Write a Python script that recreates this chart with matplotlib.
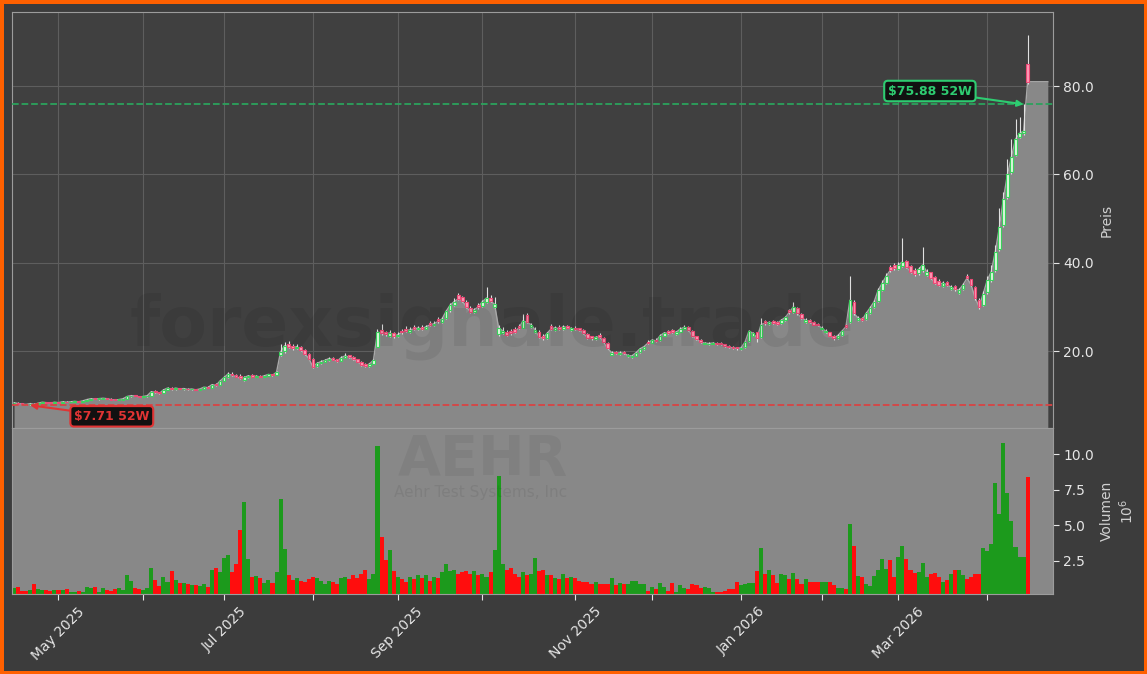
import numpy as np
import pandas as pd
import matplotlib
matplotlib.use('Agg')
import matplotlib.pyplot as plt
from matplotlib.ticker import MultipleLocator, FormatStrFormatter

# AEHR daily candles, trading days starting 2025-04-15
opens = [8.15, 8.3, 8.15, 8.05, 7.9, 8.1, 7.95, 8.2, 8.45, 8.35,
         8.2, 8.45, 8.3, 8.55, 8.4, 8.5, 8.65, 8.5, 8.7, 9.0,
         9.3, 9.1, 9.15, 9.35, 9.2, 9.05, 8.9, 9.0, 9.2, 9.7,
         10.0, 9.8, 9.6, 9.7, 9.9, 10.9, 10.6, 10.5, 11.2, 11.7,
         11.3, 11.6, 11.3, 11.5, 11.3, 11.4, 11.2, 11.4, 11.9, 11.7,
         12.5, 12.3, 13.2, 14.0, 14.9, 14.6, 14.4, 13.4, 14.0, 14.5,
         14.1, 14.4, 14.1, 14.4, 14.8, 14.6, 19.0, 19.9, 21.5, 21.2,
         20.6, 21.0, 20.2, 19.4, 18.2, 16.5, 17.2, 17.6, 17.9, 18.4,
         18.1, 17.8, 18.5, 19.0, 18.7, 18.1, 17.6, 17.0, 16.5, 17.1,
         21.0, 24.8, 24.2, 23.5, 24.0, 23.3, 24.6, 25.0, 24.3, 25.4,
         24.9, 25.4, 25.0, 26.3, 25.8, 27.2, 26.6, 27.5, 29.2, 30.5,
         32.6, 32.2, 31.2, 29.8, 28.9, 30.4, 30.2, 31.0, 32.0, 30.0,
         23.8, 24.0, 24.4, 24.5, 24.9, 25.6, 25.3, 28.2, 25.4, 24.2,
         24.4, 23.5, 23.0, 25.6, 24.8, 25.4, 25.0, 25.7, 24.8, 25.3,
         25.1, 24.7, 23.8, 23.3, 22.8, 23.6, 23.0, 21.8, 19.2, 19.8,
         19.3, 19.8, 18.8, 18.6, 18.9, 19.7, 20.5, 22.1, 21.9, 22.6,
         22.5, 23.5, 24.5, 24.7, 23.9, 24.3, 25.0, 25.5, 24.6, 23.3,
         22.6, 21.6, 21.5, 21.6, 21.8, 21.8, 21.5, 21.2, 20.9, 20.9,
         20.4, 20.8, 22.3, 23.5, 24.2, 23.2, 26.8, 26.1, 26.7, 26.5,
         26.3, 27.0, 29.2, 28.9, 29.8, 28.4, 26.6, 27.0, 26.5, 26.2,
         24.9, 24.2, 24.2, 23.3, 23.0, 23.6, 25.9, 26.5, 31.0, 27.0,
         27.5, 27.3, 28.6, 30.0, 31.4, 33.8, 35.5, 39.0, 39.5, 38.6,
         39.3, 40.3, 39.2, 38.3, 37.6, 38.3, 37.2, 37.8, 36.7, 35.8,
         34.8, 35.6, 34.0, 34.8, 33.2, 34.0, 37.0, 36.2, 34.5, 31.6,
         30.4, 33.3, 36.0, 38.3, 43.0, 48.5, 54.8, 60.5, 64.5, 68.5,
         69.3, 85.0]
highs = [8.4, 8.35, 8.2, 8.1, 8.2, 8.15, 8.3, 8.5, 8.5, 8.4,
         8.5, 8.55, 8.6, 8.6, 8.6, 8.7, 8.7, 8.8, 9.1, 9.3,
         9.4, 9.3, 9.4, 9.4, 9.25, 9.1, 9.1, 9.3, 9.8, 10.1,
         10.1, 9.9, 9.8, 10.0, 11.0, 11.1, 10.7, 11.4, 11.8, 11.8,
         11.7, 11.7, 11.6, 11.6, 11.5, 11.5, 11.5, 11.9, 12.0, 12.6,
         12.7, 13.4, 14.3, 15.2, 15.3, 14.8, 14.7, 14.4, 14.6, 14.7,
         14.5, 14.5, 14.6, 14.9, 14.9, 15.4, 21.5, 22.0, 22.2, 21.5,
         21.6, 21.2, 20.4, 19.5, 18.4, 17.5, 17.9, 18.2, 18.6, 18.6,
         18.3, 18.8, 19.5, 19.2, 18.8, 18.2, 17.7, 17.2, 17.3, 18.1,
         25.0, 26.2, 24.6, 24.8, 24.3, 24.2, 25.0, 25.6, 25.4, 25.8,
         25.7, 25.8, 26.0, 26.8, 26.7, 27.6, 27.8, 29.4, 30.8, 32.0,
         33.2, 32.5, 31.5, 30.2, 29.8, 30.8, 31.6, 34.5, 32.6, 32.3,
         26.0, 25.4, 24.8, 24.9, 25.4, 26.1, 28.4, 28.5, 26.4, 25.4,
         24.7, 23.8, 24.4, 26.2, 25.7, 25.8, 25.9, 26.0, 25.5, 25.6,
         25.3, 24.9, 24.0, 23.5, 23.4, 24.0, 23.2, 22.0, 20.0, 20.0,
         19.9, 20.0, 19.3, 19.1, 19.8, 20.7, 21.2, 22.4, 22.8, 22.9,
         23.8, 24.4, 24.7, 25.0, 24.6, 25.4, 25.9, 25.7, 24.8, 23.5,
         22.8, 22.1, 22.0, 22.0, 22.0, 22.0, 21.7, 21.3, 21.1, 21.0,
         21.0, 22.3, 24.8, 24.4, 24.4, 27.5, 27.0, 26.9, 27.0, 26.8,
         27.3, 28.0, 29.6, 31.0, 30.0, 28.6, 27.4, 27.2, 26.7, 26.4,
         25.6, 24.9, 24.4, 23.6, 23.8, 24.8, 26.2, 37.0, 31.5, 28.0,
         27.8, 28.8, 30.2, 31.6, 34.3, 36.0, 37.6, 39.5, 40.0, 40.2,
         45.5, 40.6, 39.5, 38.8, 39.0, 43.5, 38.6, 38.0, 37.0, 36.2,
         35.8, 35.9, 34.9, 35.0, 34.2, 35.4, 37.4, 36.4, 34.8, 31.9,
         33.5, 37.0, 39.5, 44.0, 52.5, 56.0, 63.5, 68.0, 72.5, 73.0,
         75.88, 91.5]
lows = [8.1, 8.0, 7.9, 7.71, 7.8, 7.85, 7.9, 8.15, 8.25, 8.15,
        8.15, 8.25, 8.25, 8.35, 8.35, 8.45, 8.45, 8.45, 8.65, 8.95,
        9.05, 9.0, 9.1, 9.15, 8.95, 8.8, 8.85, 8.95, 9.15, 9.6,
        9.7, 9.5, 9.5, 9.65, 9.85, 10.5, 10.3, 10.4, 11.1, 11.2,
        11.2, 11.3, 11.2, 11.2, 11.2, 11.1, 11.1, 11.3, 11.6, 11.6,
        12.0, 12.2, 13.1, 13.9, 14.3, 14.0, 13.6, 13.2, 13.9, 14.0,
        14.0, 14.0, 14.0, 14.3, 14.4, 14.5, 18.8, 19.6, 20.6, 20.3,
        20.4, 20.0, 19.2, 18.1, 16.2, 16.3, 17.0, 17.4, 17.8, 17.9,
        17.5, 17.7, 18.4, 18.4, 17.9, 17.4, 16.7, 16.3, 16.4, 17.0,
        20.8, 23.6, 23.3, 23.2, 23.0, 23.1, 23.9, 24.4, 24.1, 24.8,
        24.7, 24.8, 24.9, 25.7, 25.6, 26.4, 26.4, 27.3, 28.9, 30.2,
        31.5, 31.0, 29.8, 28.6, 28.6, 29.6, 30.0, 30.8, 31.0, 29.7,
        23.4, 23.8, 23.4, 23.7, 24.1, 24.9, 25.2, 26.3, 25.1, 24.0,
        22.9, 22.6, 22.8, 24.8, 24.6, 24.8, 24.8, 25.1, 24.6, 24.7,
        24.5, 23.8, 22.7, 22.6, 22.6, 23.0, 21.8, 20.4, 19.0, 19.3,
        19.1, 19.3, 18.6, 18.4, 18.8, 19.6, 20.3, 21.6, 21.8, 22.1,
        22.3, 23.3, 23.8, 24.0, 23.7, 24.2, 24.9, 24.6, 23.1, 22.6,
        21.8, 21.5, 21.4, 21.5, 21.4, 21.4, 21.0, 20.6, 20.5, 20.3,
        20.2, 20.7, 22.1, 23.3, 22.0, 23.0, 26.0, 25.9, 26.1, 26.0,
        26.1, 26.8, 28.4, 28.7, 28.2, 27.3, 26.4, 26.3, 25.8, 25.6,
        24.7, 24.0, 23.3, 22.6, 22.8, 23.4, 25.3, 26.3, 28.2, 26.8,
        26.7, 27.1, 28.4, 29.8, 31.2, 33.5, 35.2, 37.8, 38.4, 38.3,
        39.0, 38.7, 37.6, 37.1, 37.3, 38.0, 37.0, 36.2, 35.2, 34.7,
        34.5, 34.7, 33.8, 33.7, 33.0, 33.8, 36.2, 34.7, 31.6, 29.5,
        30.1, 33.0, 35.7, 38.0, 42.6, 48.2, 54.5, 60.2, 64.2, 68.2,
        69.0, 80.5]
closes = [8.3, 8.1, 8.0, 7.9, 8.1, 7.9, 8.2, 8.4, 8.3, 8.2,
          8.4, 8.3, 8.5, 8.4, 8.5, 8.6, 8.5, 8.7, 9.0, 9.2,
          9.1, 9.2, 9.3, 9.2, 9.0, 8.9, 9.0, 9.2, 9.7, 9.9,
          9.8, 9.6, 9.7, 9.9, 10.8, 10.6, 10.4, 11.2, 11.6, 11.3,
          11.6, 11.4, 11.5, 11.3, 11.4, 11.2, 11.4, 11.8, 11.7, 12.4,
          12.2, 13.2, 14.0, 14.8, 14.5, 14.2, 13.8, 14.0, 14.4, 14.1,
          14.3, 14.1, 14.4, 14.7, 14.5, 15.2, 19.8, 21.2, 21.0, 20.6,
          21.0, 20.2, 19.4, 18.3, 16.4, 17.2, 17.6, 17.9, 18.3, 18.0,
          17.7, 18.5, 18.9, 18.6, 18.1, 17.6, 16.9, 16.5, 17.1, 17.9,
          24.3, 24.0, 23.8, 24.1, 23.3, 23.7, 24.2, 24.6, 24.8, 25.0,
          25.2, 25.0, 25.5, 25.9, 26.2, 26.7, 27.3, 29.0, 30.4, 31.2,
          31.8, 31.4, 30.0, 28.9, 29.4, 30.0, 31.2, 32.0, 31.3, 30.6,
          25.2, 24.6, 23.7, 24.0, 24.4, 25.2, 26.8, 26.5, 26.0, 24.8,
          23.2, 22.9, 24.0, 25.0, 25.3, 25.0, 25.5, 25.3, 25.1, 24.9,
          24.8, 24.0, 23.0, 22.9, 23.1, 23.2, 22.0, 20.6, 19.6, 19.5,
          19.6, 19.5, 19.0, 18.9, 19.6, 20.5, 21.0, 21.8, 22.5, 22.3,
          23.5, 24.1, 24.0, 24.2, 24.3, 25.0, 25.4, 24.8, 23.3, 22.8,
          22.0, 21.8, 21.7, 21.8, 21.6, 21.6, 21.2, 20.8, 20.7, 20.6,
          20.7, 22.0, 24.5, 24.0, 23.0, 26.0, 26.3, 26.5, 26.3, 26.2,
          27.0, 27.6, 28.8, 30.0, 28.5, 27.5, 27.0, 26.5, 26.0, 25.9,
          25.2, 24.5, 23.5, 22.9, 23.5, 24.5, 25.5, 31.5, 28.5, 27.5,
          27.0, 28.5, 29.8, 31.2, 33.8, 35.4, 37.0, 38.3, 38.8, 39.5,
          40.2, 39.0, 38.0, 37.5, 38.5, 39.5, 38.0, 36.5, 35.5, 35.0,
          35.4, 35.0, 34.5, 34.0, 33.8, 35.0, 36.5, 35.0, 32.0, 30.0,
          33.0, 36.0, 38.0, 42.5, 48.0, 54.5, 60.0, 64.0, 68.0, 69.3,
          69.8, 81.0]
# volume in millions of shares
volumes = [0.60, 0.67, 0.39, 0.39, 0.46, 0.88, 0.53, 0.46, 0.46, 0.40,
           0.46, 0.46, 0.46, 0.53, 0.32, 0.32, 0.39, 0.32, 0.67, 0.60,
           0.67, 0.35, 0.60, 0.46, 0.39, 0.53, 0.60, 0.46, 1.51, 1.10,
           0.63, 0.53, 0.46, 0.60, 2.00, 1.16, 0.74, 1.37, 1.02, 1.82,
           1.16, 0.97, 0.95, 0.88, 0.81, 0.81, 0.74, 0.85, 0.67, 1.86,
           2.00, 1.75, 2.70, 2.92, 1.75, 2.29, 4.68, 6.65, 2.64, 1.40,
           1.44, 1.30, 0.97, 1.16, 0.95, 1.75, 6.86, 3.35, 1.51, 1.16,
           1.3, 1.1, 1.0, 1.2, 1.4, 1.3, 1.1, 0.9, 1.1, 1.0,
           0.9, 1.3, 1.4, 1.2, 1.5, 1.3, 1.6, 1.9, 1.2, 1.6,
           10.6, 4.2, 2.6, 3.3, 1.8, 1.4, 1.2, 1.0, 1.4, 1.2,
           1.5, 1.3, 1.5, 1.1, 1.4, 1.3, 1.7, 2.3, 1.8, 1.9,
           1.6, 1.7, 1.8, 1.6, 1.8, 1.5, 1.6, 1.4, 1.7, 3.3,
           8.5, 2.3, 1.9, 2.0, 1.6, 1.4, 1.7, 1.5, 1.6, 2.7,
           1.8, 1.9, 1.5, 1.5, 1.3, 1.2, 1.6, 1.3, 1.4, 1.3,
           1.1, 1.0, 1.0, 0.9, 1.0, 0.9, 0.88, 0.88, 1.3, 0.8,
           0.98, 0.9, 0.9, 1.1, 1.1, 0.9, 0.9, 0.4, 0.65, 0.5,
           0.98, 0.7, 0.41, 0.98, 0.35, 0.8, 0.6, 0.55, 0.9, 0.8,
           0.6, 0.7, 0.6, 0.35, 0.3, 0.3, 0.41, 0.5, 0.5, 1.0,
           0.8, 0.9, 0.98, 0.95, 1.83, 3.4, 1.58, 1.88, 1.54, 0.97,
           1.58, 1.54, 1.23, 1.65, 1.23, 0.85, 1.23, 1.05, 1.05, 1.05,
           1.0, 1.05, 1.0, 0.8, 0.6, 0.6, 0.5, 5.1, 3.58, 1.44,
           1.37, 0.88, 0.76, 1.44, 1.86, 2.64, 1.93, 2.57, 1.37, 2.8,
           3.55, 2.64, 1.86, 1.68, 1.7, 2.36, 1.37, 1.58, 1.68, 1.37,
           1.04, 1.16, 1.58, 1.86, 1.86, 1.51, 1.23, 1.37, 1.58, 1.58,
           3.42, 3.2, 3.7, 8.0, 5.8, 10.8, 7.3, 5.3, 3.5, 2.8,
           2.8, 8.4]

holidays = ['2025-04-18', '2025-05-26', '2025-06-19', '2025-07-04', '2025-09-01',
            '2025-11-27', '2025-12-25', '2026-01-01', '2026-01-19', '2026-02-16',
            '2026-04-03']
high_52w, high_52w_idx = 75.88, 250
low_52w, low_52w_idx = 7.71, 4

dates = pd.bdate_range('2025-04-15', periods=len(closes), freq='C', holidays=holidays)
n = len(closes)
x = np.arange(n)
o = np.array(opens)
h = np.array(highs)
l = np.array(lows)
c = np.array(closes)
v = np.array(volumes)
up = c >= o

# area keeps the last close for a few days past the data
ext = 5
fx = np.arange(n + ext)
fy = np.concatenate([c, np.full(ext, c[-1])])

bg = '#3c3c3c'
fig = plt.figure(figsize=(11.47, 6.74), dpi=100)
fig.patch.set_facecolor(bg)
fig.patch.set_edgecolor('#ff6000')
fig.patch.set_linewidth(5)

ax = fig.add_axes([0.0105, 0.365, 0.9076, 0.6172])
axv = fig.add_axes([0.0105, 0.1187, 0.9076, 0.2463], sharex=ax)
ax.set_facecolor('#404040')
axv.set_facecolor('#888888')

ax.set_axisbelow(True)
ax.grid(True, color='#5e5e5e', lw=0.8)
ax.fill_between(fx, fy, 0, color='#888888', zorder=1, lw=0)
ax.plot(fx, fy, color='#a9a9a9', lw=1, zorder=2)

# candles
ax.vlines(x, l, h, color='#e0e0e0', lw=0.8, zorder=3)
body_lo = np.minimum(o, c)
body_h = np.maximum(np.abs(c - o), 0.15)
face = np.where(up, '#dff5df', '#ff9ab6')
edge = np.where(up, '#3ad25c', '#ec4a76')
ax.bar(x, body_h, bottom=body_lo, width=0.65, color=face, edgecolor=edge, lw=0.8, zorder=4)

ax.axhline(high_52w, color='#2ca25c', ls='--', lw=1.3, zorder=5)
ax.axhline(low_52w, color='#d84444', ls='--', lw=1.3, zorder=5)

ax.annotate('\\$%.2f 52W' % high_52w, xy=(high_52w_idx, high_52w), xytext=(226.8, 78.9),
            ha='center', va='center', fontsize=9, fontweight='bold', color='#2ecc71',
            bbox=dict(boxstyle='round,pad=0.3', fc='#111111', ec='#2ecc71', lw=1.5),
            arrowprops=dict(arrowstyle='-|>', color='#2ecc71', lw=1.5, shrinkA=0, shrinkB=0),
            zorder=10)
ax.annotate('\\$%.2f 52W' % low_52w, xy=(low_52w_idx, low_52w), xytext=(24.2, 5.2),
            ha='center', va='center', fontsize=9, fontweight='bold', color='#e03434',
            bbox=dict(boxstyle='round,pad=0.3', fc='#111111', ec='#e03434', lw=1.5),
            arrowprops=dict(arrowstyle='-|>', color='#e03434', lw=1.5, shrinkA=0, shrinkB=0),
            zorder=10)

# volume
vcol = np.where(up, '#1c9a1c', '#ff0d0d')
axv.bar(x, v, width=1.0, color=vcol, lw=0, zorder=2)

ax.set_xlim(-0.5, n + 5.3)
ax.set_ylim(2.56, 96.8)
axv.set_ylim(0.18, 11.85)

for a in (ax, axv):
    a.yaxis.tick_right()
    a.yaxis.set_label_position('right')
    a.tick_params(axis='y', colors='#e6e6e6', labelsize=10, length=4)
    for s in a.spines.values():
        s.set_color('#9c9c9c')
ax.yaxis.set_major_locator(MultipleLocator(20))
ax.yaxis.set_major_formatter(FormatStrFormatter('%.1f'))
axv.yaxis.set_major_locator(MultipleLocator(2.5))
axv.yaxis.set_major_formatter(FormatStrFormatter('%.1f'))
ax.set_ylabel('Preis', color='#d0d0d0', fontsize=10)
axv.set_ylabel('Volumen\n$10^{6}$', color='#d0d0d0', fontsize=10)

per = dates.to_period('M')
month_pos = [i for i in range(1, n) if per[i] != per[i - 1]]
month_lab = [dates[i].strftime('%b %Y') if dates[i].month % 2 == 1 else '' for i in month_pos]
axv.set_xticks(month_pos)
axv.set_xticklabels(month_lab, rotation=45, ha='center')
axv.tick_params(axis='x', colors='#e6e6e6', labelsize=10, length=4)
ax.tick_params(axis='x', length=0, labelbottom=False)

# watermarks
fig.text(0.429, 0.516, 'forexsignale.trade', fontsize=50, fontweight='bold',
         color='black', alpha=0.07, ha='center', va='center')
fig.text(0.421, 0.318, 'AEHR', fontsize=40, fontweight='bold',
         color='black', alpha=0.06, ha='center', va='center')
fig.text(0.419, 0.270, 'Aehr Test Systems, Inc', fontsize=11,
         color='black', alpha=0.07, ha='center', va='center')

fig.savefig('out.png', dpi=100, facecolor=fig.get_facecolor(), edgecolor=fig.get_edgecolor())
